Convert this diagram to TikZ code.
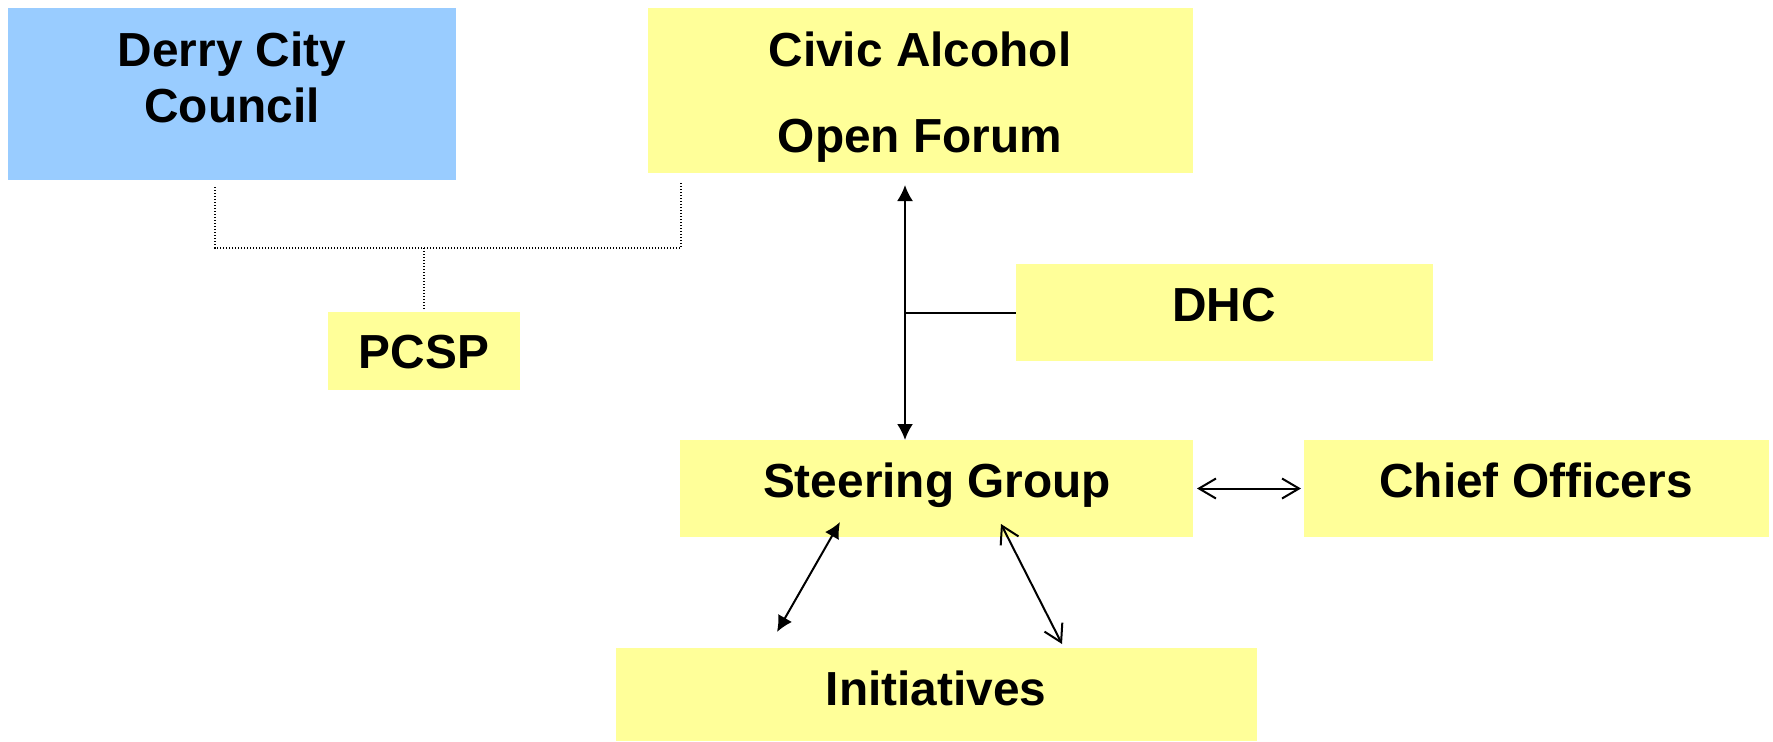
\documentclass[tikz,border=0pt]{standalone}
\usepackage{fontspec}
\setmainfont{Liberation Sans}
\usetikzlibrary{arrows.meta,calc}
\definecolor{boxyellow}{HTML}{FFFF99}
\definecolor{boxblue}{HTML}{99CCFF}
\begin{document}
\begin{tikzpicture}[x=0.5pt,y=-0.5pt,
 box/.style={rectangle, draw=none, inner sep=0, outer sep=0},
 yel/.style={box, fill=boxyellow},
 lbl/.style={anchor=base, inner sep=0, outer sep=0, font=\fontsize{23.9}{28}\selectfont\bfseries},
 dots/.style={line width=0.6pt, dash pattern=on 0.6pt off 0.9pt},
 solidarrow/.style={line width=1pt, {Latex[length=8pt,width=8pt]}-{Latex[length=8pt,width=8pt]}},
 openarrow/.style={line width=1pt, {Straight Barb[length=8.5pt,width=10pt]}-{Straight Barb[length=8.5pt,width=10pt]}}]
\useasboundingbox (0,0) rectangle (1773,741);
% boxes
\node[box, fill=boxblue, minimum width=224pt, minimum height=86pt] (derry) at (232,94) {};
\node[yel, minimum width=272.5pt, minimum height=82.5pt] (civic) at (920.5,90.5) {};
\node[yel, minimum width=96pt, minimum height=39pt] (pcsp) at (424,351) {};
\node[yel, minimum width=208.5pt, minimum height=48.5pt] (dhc) at (1224.5,312.5) {};
\node[yel, minimum width=256.5pt, minimum height=48.5pt] (steer) at (936.5,488.5) {};
\node[yel, minimum width=232.5pt, minimum height=48.5pt] (chief) at (1536.5,488.5) {};
\node[yel, minimum width=320.5pt, minimum height=46.5pt] (init) at (936.5,694.5) {};
% labels
\node[lbl] (derry1) at (232,66) {Derry City};
\node[lbl] (derry2) at (232,122) {Council};
\node[lbl] (civic1) at (920,66) {Civic Alcohol};
\node[lbl] (civic2) at (920,152) {Open Forum};
\node[lbl] (pcsptxt) at (424,368) {PCSP};
\node[lbl] (dhctxt) at (1224,321) {DHC};
\node[lbl] (steertxt) at (937,497) {Steering Group};
\node[lbl] (chieftxt) at (1536,497) {Chief Officers};
\node[lbl] (inittxt) at (936,705) {Initiatives};
% dotted connectors
\coordinate (pj) at (424,248);
\draw[dots] ($(derry.south)+(-17,7)$) -- ++(0,61) -| ($(civic.south west)+(33,10)$);
\draw[dots] (pj) -- ($(pcsp.north)+(0,-3)$);
% vertical arrow and DHC
\coordinate (vx) at (905,0);
\draw[solidarrow] ($(civic.south -| vx)+(0,12)$) -- (steer.north -| vx);
\draw[line width=1pt] (dhc.west -| vx) -- (dhc.west);
% steering - chief
\draw[openarrow] ($(steer.east)+(4,0)$) -- ($(chief.west)+(-3,0)$);
% steering - initiatives
\draw[solidarrow] ($(steer.south west)+(160,-15)$) -- ($(init.north west)+(161,-16)$);
\draw[openarrow] ($(steer.south west)+(321,-13)$) -- ($(init.north west)+(446,-4)$);
\end{tikzpicture}
\end{document}
